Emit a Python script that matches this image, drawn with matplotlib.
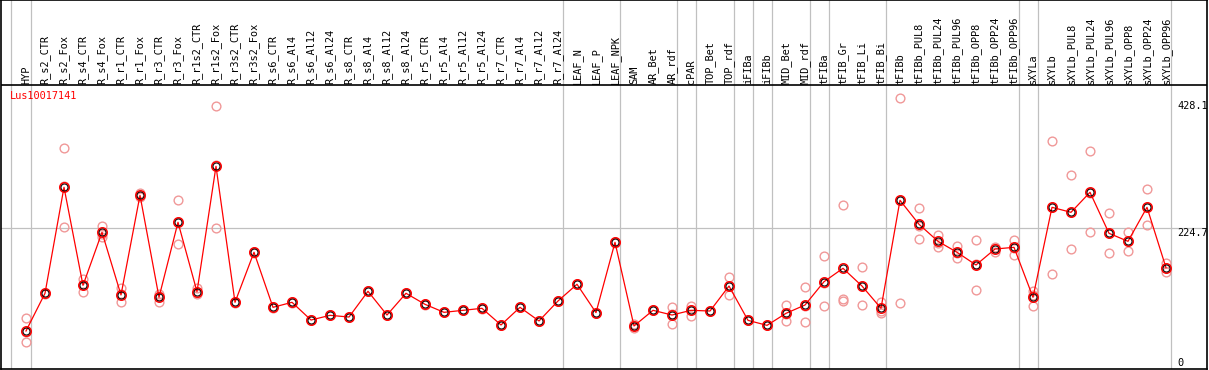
import numpy as np
import matplotlib
matplotlib.use('Agg')
import matplotlib.pyplot as plt

gene = 'Lus10017141'

samples = ['HYP', 'R_s2_CTR', 'R_s2_Fox', 'R_s4_CTR', 'R_s4_Fox', 'R_r1_CTR', 'R_r1_Fox',
           'R_r3_CTR', 'R_r3_Fox', 'R_r1s2_CTR', 'R_r1s2_Fox', 'R_r3s2_CTR', 'R_r3s2_Fox',
           'R_s6_CTR', 'R_s6_Al4', 'R_s6_Al12', 'R_s6_Al24', 'R_s8_CTR', 'R_s8_Al4',
           'R_s8_Al12', 'R_s8_Al24', 'R_r5_CTR', 'R_r5_Al4', 'R_r5_Al12', 'R_r5_Al24',
           'R_r7_CTR', 'R_r7_Al4', 'R_r7_Al12', 'R_r7_Al24', 'LEAF_N', 'LEAF_P', 'LEAF_NPK',
           'SAM', 'AR_Bet', 'AR_rdf', 'cPAR', 'TOP_Bet', 'TOP_rdf', 'iFIBa', 'iFIBb',
           'MID_Bet', 'MID_rdf', 'tFIBa', 'tFIB_Gr', 'tFIB_Li', 'tFIB_Bi', 'tFIBb',
           'tFIBb_PUL8', 'tFIBb_PUL24', 'tFIBb_PUL96', 'tFIBb_OPP8', 'tFIBb_OPP24',
           'tFIBb_OPP96', 'sXYLa', 'sXYLb', 'sXYLb_PUL8', 'sXYLb_PUL24', 'sXYLb_PUL96',
           'sXYLb_OPP8', 'sXYLb_OPP24', 'sXYLb_OPP96']

means = [60.7, 120.9, 290.2, 133.6, 218.3, 118.2, 277.4, 114.5, 234.3, 123.4, 323.7,
         106.5, 186.4, 98.5, 106.5, 78.2, 85.7, 83.0, 124.1, 86.2, 120.9, 103.3, 90.5,
         93.7, 96.9, 70.3, 98.5, 76.7, 108.6, 135.3, 90.0, 202.3,
         68.7, 93.7, 86.2, 93.7, 92.6, 132.5, 77.7, 69.7, 88.9, 102.2,
         139.4, 160.8, 132.5, 96.9,
         269.4, 231.1, 203.9, 186.4, 166.1, 191.6, 194.3,
         114.5, 258.2, 250.2, 282.2, 216.7, 203.9, 258.2, 161.8]

rep1 = [81.0, 120.0, 352.4, 143.2, 228.4, 128.9, 281.5, 119.8, 269.4, 128.9, 420.5,
        106.0, 186.0, 98.0, 106.0, 78.0, 85.5, 83.0, 124.0, 86.0, 121.0, 103.0, 90.5,
        93.5, 97.0, 70.0, 98.5, 76.5, 108.5, 135.0, 90.0, 202.0,
        72.0, 94.0, 99.0, 101.1, 92.5, 146.9, 77.5, 70.0, 102.2, 130.4,
        179.9, 261.4, 162.9, 107.5,
        432.3, 256.6, 214.0, 196.9, 205.5, 195.3, 206.0,
        125.0, 364.1, 309.3, 347.6, 248.6, 218.3, 287.0, 168.8]
rep2 = [42.6, 122.0, 226.3, 123.4, 210.3, 106.5, 276.0, 107.5, 199.1, 119.3, 224.7,
        107.0, 187.0, 99.0, 107.0, 78.5, 86.0, 83.0, 124.5, 86.5, 121.0, 103.5, 90.5,
        94.0, 96.5, 70.5, 98.5, 77.0, 108.5, 135.5, 90.0, 202.5,
        65.5, 93.5, 71.4, 85.1, 92.5, 117.6, 78.0, 69.5, 76.1, 75.0,
        100.1, 111.8, 101.7, 90.0,
        105.4, 207.6, 195.3, 177.7, 125.7, 186.4, 182.5,
        100.1, 151.2, 191.1, 218.3, 184.8, 188.0, 229.5, 155.4]
rep3 = [58.5, 121.0, 291.9, 134.2, 216.2, 119.2, 274.7, 116.2, 234.4, 122.0, 325.9,
        106.5, 186.2, 98.5, 106.5, 78.2, 85.7, 83.0, 124.1, 86.2, 120.9, 103.3, 90.5,
        93.7, 96.9, 70.3, 98.5, 76.7, 108.6, 135.3, 90.0, 202.3,
        68.6, 93.7, 88.0, 95.0, 92.6, 133.0, 77.7, 69.7, 88.0, 101.0,
        138.0, 109.0, 133.0, 93.0,
        270.5, 229.0, 202.0, 185.0, 167.0, 193.0, 194.0,
        118.0, 259.3, 250.2, 280.7, 216.7, 205.0, 258.0, 161.0]

# last index of each sample group (gray separators)
group_ends = [-1.05, 0, 28, 31, 34, 35, 37, 38, 39, 41, 42, 45, 52, 53, 60]
tick_values = [428.1, 224.7, 0]

W, H = 1209, 370
fig = plt.figure(figsize=(W / 100, H / 100), dpi=100)
# axes spans px x 1..1207, y 0..369 (from top)
ax = fig.add_axes([1 / W, 1 / H, 1206 / W, 369 / H])
# px mapping: x = 26 + 19*i ; y = 369 - 0.6262*v
ax.set_xlim((1 - 26) / 19, (1207 - 26) / 19)
ax.set_ylim(0, 369 / 0.6262)
ax.set_xticks([])
ax.set_yticks([])
for s in ax.spines.values():
    s.set_color('black')
    s.set_linewidth(1.2)

header_v = (369 - 85) / 0.6262
ax.axhline(header_v, color='black', lw=1.2)
ax.axhline(224.7, color='#c0c0c0', lw=0.9, zorder=1)
for e in group_ends:
    ax.axvline(e + 0.245, color='#c0c0c0', lw=0.9, zorder=1)

x = np.arange(len(samples))
mono = 'DejaVu Sans Mono'
for i, name in enumerate(samples):
    ax.text(i, (369 - 84) / 0.6262, name, rotation=90, ha='center', va='bottom',
            family=mono, fontsize=7.4, color='black')

for r in (rep1, rep2, rep3):
    ax.plot(x, r, 'o', ms=6.3, mfc='none', mec='#f09898', mew=1.0, zorder=3)

ax.plot(x, means, '-', color='red', lw=0.9, zorder=4)
ax.plot(x, means, 'o', ms=6.8, mfc='none', mec='red', mew=1.1, zorder=5)
ax.plot(x, means, 'o', ms=5.0, mfc='none', mec='black', mew=0.7, zorder=5)

ax.text((10 - 26) / 19, (369 - 91) / 0.6262, gene, color='red', family=mono,
        fontsize=7.4, ha='left', va='top')

lx = (1177 - 26) / 19
for v in tick_values:
    if v == 0:
        ax.text(lx, 1.5, '0', family=mono, fontsize=7.4, ha='left', va='bottom')
    else:
        ax.text(lx, v, f'{v}', family=mono, fontsize=7.4, ha='left', va='top')

fig.savefig('out.png', dpi=100)
